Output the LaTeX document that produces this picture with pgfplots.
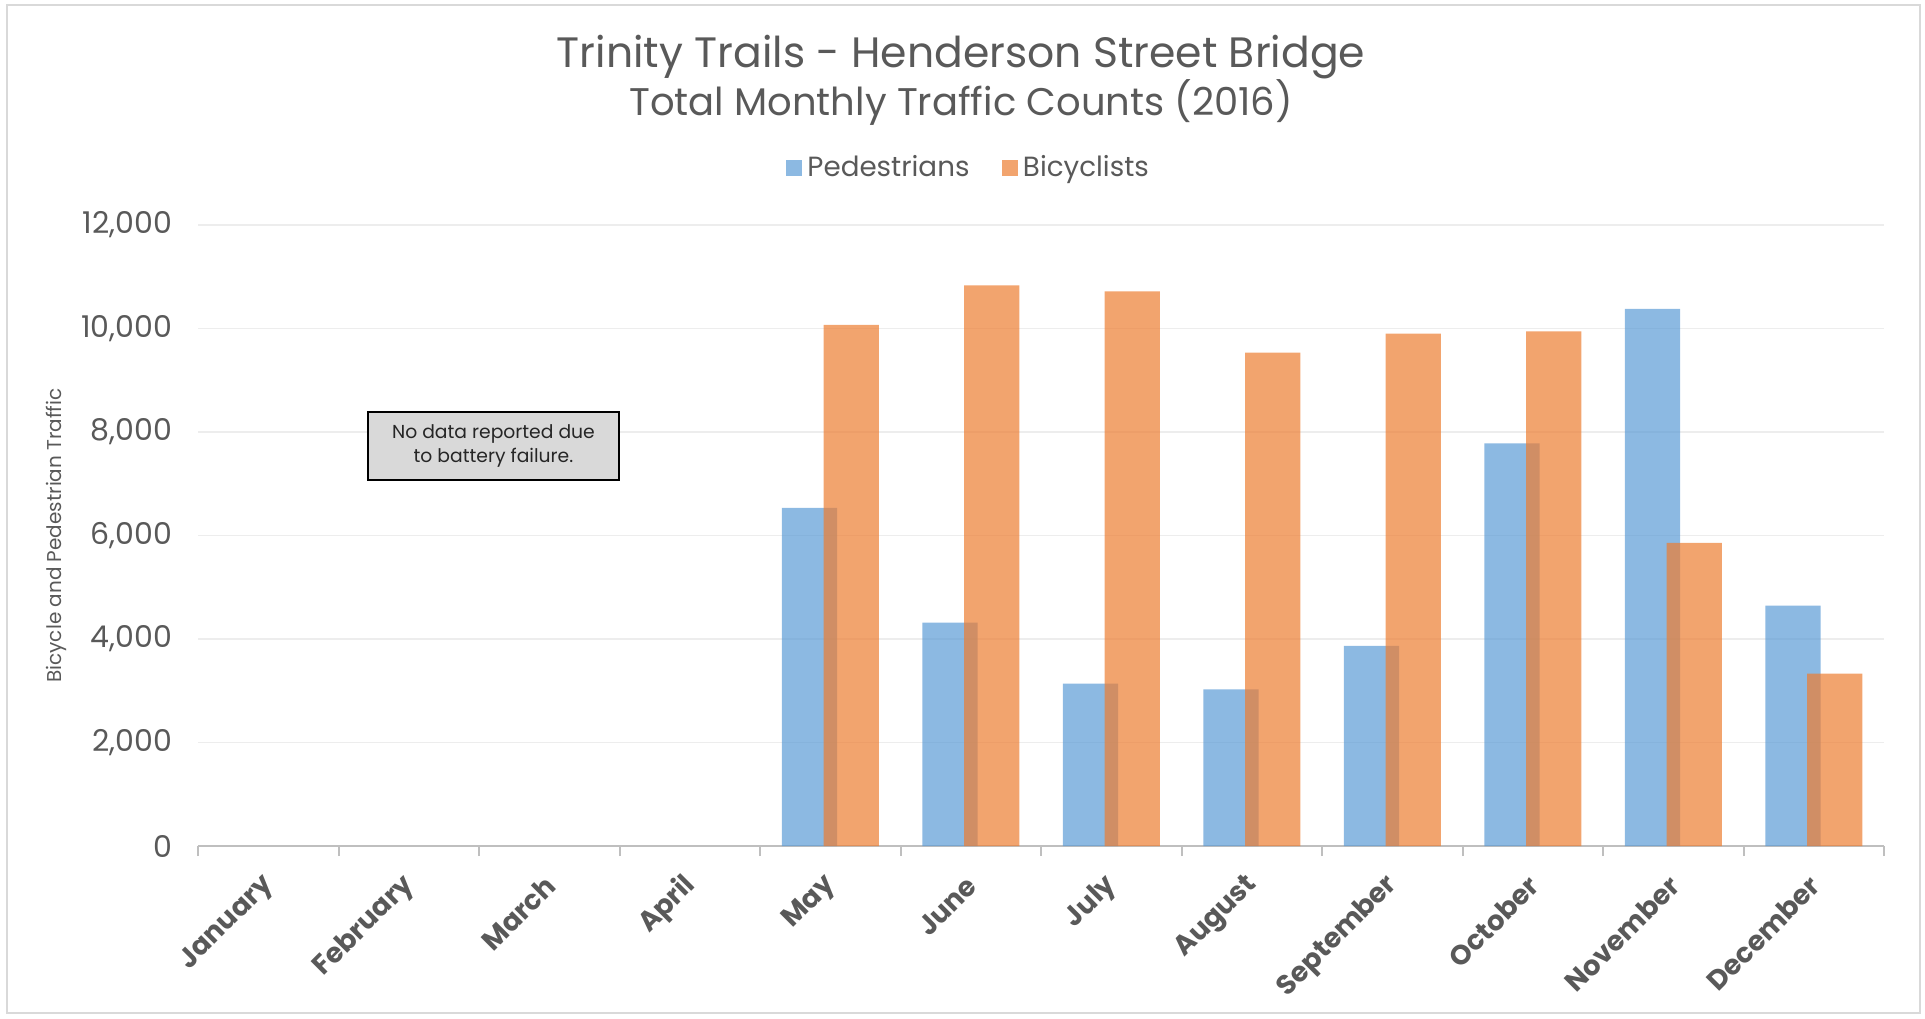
\documentclass[border=0pt]{standalone}
\usepackage{pgfplots}
\pgfplotsset{compat=1.18}
\usepackage{fontspec}
\setmainfont{Poppins}

\definecolor{txt}{HTML}{595959}
\definecolor{pedblue}{HTML}{5B9BD5}
\definecolor{bikeorange}{HTML}{ED7D31}
\definecolor{gridgray}{HTML}{EDEDED}
\definecolor{axisgray}{HTML}{BFBFBF}
\definecolor{framegray}{HTML}{D9D9D9}

\begin{document}
\begin{tikzpicture}
\begin{axis}[
  scale only axis,
  width=674.4pt, height=248.4pt,
  xmin=0.5, xmax=12.5, ymin=0, ymax=12000,
  ybar, bar width=22.1pt,
  axis x line*=bottom, axis y line*=left,
  y axis line style={draw=none},
  x axis line style={axisgray, line width=1pt},
  xtick={1,...,12},
  xticklabels={January,February,March,April,May,June,July,August,September,October,November,December},
  major x tick style={draw=none},
  minor xtick={0.5,1.5,...,12.5},
  minor x tick style={axisgray, line width=0.8pt},
  minor tick length=4pt,
  xtick align=outside,
  xticklabel style={xshift=0.7pt, yshift=-9.7pt, rotate=45, anchor=east, inner sep=0pt,
    font=\fontsize{11}{13}\selectfont\bfseries, text=txt},
  ytick={0,2000,...,12000},
  scaled y ticks=false,
  major y tick style={draw=none},
  yticklabel style={anchor=east, inner sep=0pt, xshift=-10.1pt,
    font=\fontsize{12}{14}\selectfont, text=txt},
  /pgf/number format/assume math mode=true,
  /pgf/number format/.cd, fixed, 1000 sep={,}, /pgfplots/.cd,
  ymajorgrids, grid style={gridgray, line width=0.7pt},
  ylabel={Bicycle and Pedestrian Traffic},
  ylabel style={at={(axis description cs:-0.084,0.5)}, anchor=center,
    font=\fontsize{8}{10}\selectfont, text=txt},
  legend style={at={(axis description cs:0.458,1.092)}, anchor=center,
    draw=none, fill=none, legend columns=2,
    font=\fontsize{11.1}{13}\selectfont, text=txt,
    /tikz/every even column/.append style={column sep=11pt}},
  legend image code/.code={\fill[#1] (0pt,-3.2pt) rectangle (6.4pt,3.2pt);},
  clip=false,
]
% Pedestrians (no data Jan-Apr)
\addplot[fill=pedblue, fill opacity=0.7, draw=none, bar shift=-8.35pt] coordinates {
(5,6535) (6,4315) (7,3140) (8,3025) (9,3865) (10,7778) (11,10380) (12,4645)
};
\addlegendentry{Pedestrians}
% Bicyclists
\addplot[fill=bikeorange, fill opacity=0.7, draw=none, bar shift=8.35pt] coordinates {
(5,10070) (6,10832) (7,10716) (8,9532) (9,9900) (10,9945) (11,5860) (12,3330)
};
\addlegendentry{Bicyclists}

\node[draw=black, line width=1pt, fill=framegray, minimum width=100.4pt,
  minimum height=27.2pt, align=center, inner sep=2pt,
  font=\fontsize{7.5}{9.5}\selectfont, text=black!85]
  at (axis cs:2.603,7729) {No data reported due\\to battery failure.};
\end{axis}

\node[font=\fontsize{17}{20}\selectfont, text=txt] at (305.2pt,315.7pt)
  {Trinity Trails - Henderson Street Bridge};
\node[font=\fontsize{15.4}{18}\selectfont, text=txt] at (305.2pt,297.6pt)
  {Total Monthly Traffic Counts (2016)};

\draw[framegray, line width=1pt] (-76.4pt,-66.8pt) rectangle (688.8pt,336.4pt);
\pgfresetboundingbox
\path (-79.2pt,-68.8pt) rectangle (690.8pt,338.4pt);
\end{tikzpicture}
\end{document}
